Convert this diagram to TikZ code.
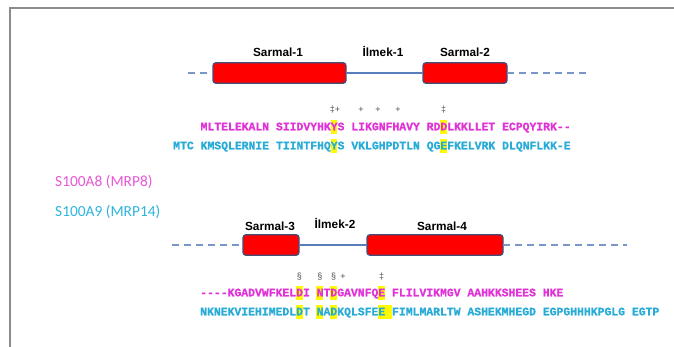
\documentclass[tikz,border=0pt]{standalone}
\usepackage{fontspec}
\setmainfont{Liberation Sans}
\newfontfamily\seqfont{Liberation Mono}[BoldFeatures={FakeBold=1}]
\newfontfamily\labfont{Carlito}
\definecolor{seqmag}{RGB}{225,50,215}
\definecolor{seqcyan}{RGB}{40,172,215}
\definecolor{labmag}{RGB}{232,88,212}
\definecolor{labcyan}{RGB}{48,180,222}
\definecolor{helixborder}{RGB}{70,78,120}
\definecolor{linecol}{RGB}{88,124,188}
\definecolor{dashcol}{RGB}{120,150,200}
\definecolor{framecol}{RGB}{140,140,140}
\definecolor{hlyellow}{RGB}{255,250,0}
\definecolor{markgray}{RGB}{80,80,80}
\def\cw{6.85}
\def\hlcol#1#2#3{\fill[hlyellow] ({#1+(#2)*\cw},{#3-7}) rectangle ({#1+(#2+1)*\cw},{#3+7});}
\begin{document}
\begin{tikzpicture}[x=1pt,y=-1pt,
  helix/.style={draw=helixborder, line width=1.4pt, fill=red, rounded corners=3pt,
    minimum height=20.5pt, inner sep=0pt, outer sep=0pt},
  hlabel/.style={font=\bfseries\fontsize{11.8}{12}\selectfont, inner sep=0pt},
  dashline/.style={draw=dashcol, line width=2.6pt, dash pattern=on 7pt off 5pt},
  loopline/.style={draw=linecol, line width=1.5pt},
  seqm/.style={inner sep=0pt, anchor=base west, text=seqmag,
    font=\seqfont\bfseries\fontsize{11.42}{13}\selectfont},
  seqc/.style={seqm, text=seqcyan},
  markstyle/.style={inner sep=0pt, text=markgray, font=\fontsize{9}{9}\selectfont},
  protlabel/.style={inner sep=0pt, anchor=west, font=\labfont\fontsize{15.4}{16}\selectfont}]
\useasboundingbox (0,0) rectangle (674,347);
\fill[white] (0,0) rectangle (674,347);
\draw[framecol, line width=2pt] (10,347) -- (10,8) -- (674,8);

% ---------- top helices ----------
\node[helix, minimum width=133pt] (s1) at (279.5,73) {};
\node[helix, minimum width=84pt] (s2) at (465,73) {};
\coordinate (d1a) at (188,73);
\coordinate (d1b) at (590,73);
\draw[dashline] (d1a) -- (s1.west);
\draw[loopline] (s1.east) -- (s2.west);
\draw[dashline] (s2.east) -- (d1b);
\node[hlabel] (t1) at (278,52) {Sarmal-1};
\node[hlabel] (t2) at (383,52) {İlmek-1};
\node[hlabel] (t3) at (465,52) {Sarmal-2};

% ---------- top sequences ----------
\hlcol{173}{23}{127}
\hlcol{173}{39}{127}
\hlcol{173}{23}{146}
\hlcol{173}{39}{146}
\node[seqm] (m1) at ({173+4*\cw},130.3) {MLTELEKALN SIIDVYHKYS LIKGNFHAVY RDDLKKLLET ECPQYIRK-\kern0pt-};
\node[seqc] (c1) at (173,149.3) {MTC KMSQLERNIE TIINTFHQYS VKLGHPDTLN QGEFKELVRK DLQNFLKK-E};
\node[markstyle] (k1) at (335,110) {‡+};
\node[markstyle] (k2) at (361,110) {+};
\node[markstyle] (k3) at (378,110) {+};
\node[markstyle] (k4) at (398,110) {+};
\node[markstyle] (k5) at ({173+39.5*\cw},110) {‡};

% ---------- protein labels ----------
\node[protlabel, text=labmag] (p1) at (55,182) {S100A8 (MRP8)};
\node[protlabel, text=labcyan] (p2) at (55,212) {S100A9 (MRP14)};

% ---------- bottom helices ----------
\node[helix, minimum width=56pt] (s3) at (271,245) {};
\node[helix, minimum width=136pt] (s4) at (435,245) {};
\coordinate (d2a) at (172,245);
\coordinate (d2b) at (627,245);
\draw[dashline] (d2a) -- (s3.west);
\draw[loopline] (s3.east) -- (s4.west);
\draw[dashline] (s4.east) -- (d2b);
\node[hlabel] (t4) at (270,226) {Sarmal-3};
\node[hlabel] (t5) at (335,224) {İlmek-2};
\node[hlabel] (t6) at (442,226) {Sarmal-4};

% ---------- bottom sequences ----------
\hlcol{200}{14}{293}
\hlcol{200}{17}{293}
\hlcol{200}{19}{293}
\hlcol{200}{26}{293}
\hlcol{200}{14}{312}
\hlcol{200}{17}{312}
\hlcol{200}{19}{312}
\hlcol{200}{26}{312}
\hlcol{200}{27}{312}
\node[seqm] (m2) at (200,296.3) {-\kern0pt-\kern0pt-\kern0pt-KGADVWFKELDI NTDGAVNFQE FLILVIKMGV AAHKKSHEES HKE};
\node[seqc] (c2) at (200,315.3) {NKNEKVIEHIMEDLDT NADKQLSFEE FIMLMARLTW ASHEKMHEGD EGPGHHHKPGLG EGTP};
\node[markstyle] (k6) at ({200+14.5*\cw},277) {§};
\node[markstyle] (k7) at ({200+17.5*\cw},277) {§};
\node[markstyle] (k8) at ({200+19.5*\cw},277) {§};
\node[markstyle] (k9) at (343,277) {+};
\node[markstyle] (k10) at ({200+26.5*\cw},277) {‡};
\end{tikzpicture}
\end{document}
